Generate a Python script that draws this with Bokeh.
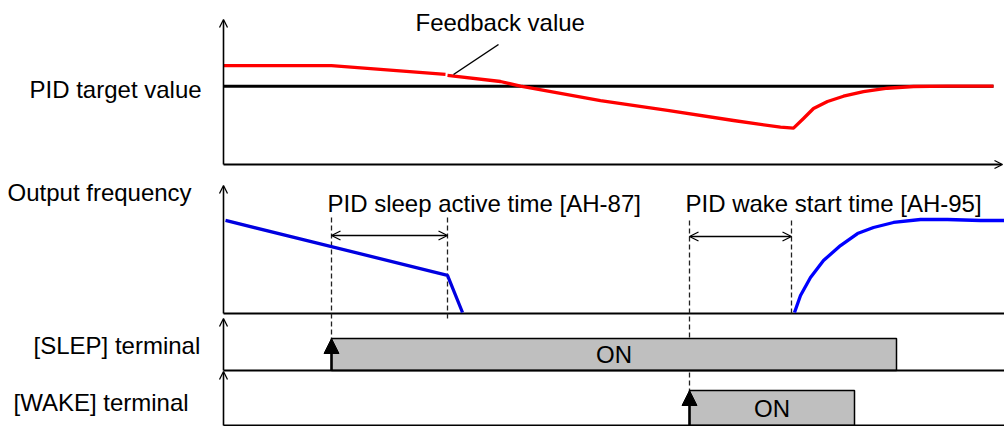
from bokeh.plotting import figure
from bokeh.models import Range1d, Arrow, OpenHead, NormalHead
from bokeh.core.properties import value
from bokeh.embed import file_html
from bokeh.resources import INLINE

# ---------------- data (time in arbitrary units from the axis origin) ----------------
# PID feedback value (% of target), drawn in two pieces (gap at the leader line)
fb_time_a = [0, 108, 222]
fb_value_a = [126.4, 126.4, 115]
fb_time_b = [224, 277, 297, 377, 444, 510, 557, 570, 580, 590, 604, 620, 640, 664, 690, 724, 770]
fb_value_b = [113.7, 106, 100, 81.7, 69, 56.2, 47.6, 46.4, 58.7, 71.5, 80.5, 87.2, 93.2, 97.4, 99.6, 100, 100]
# PID target value
target_time = [0, 770]
target_value = [100, 100]
# Output frequency (%)
freq_time_a = [2, 224, 239]
freq_value_a = [99, 40, 0]
freq_time_b = [571, 577, 587, 600, 617, 634, 650, 670, 697, 724, 757, 781]
freq_value_b = [0, 18.3, 37.6, 55.9, 72, 84.9, 91.4, 96.8, 100, 100, 98.9, 98.9]
# Terminals (ON intervals)
slep_on, slep_off = 108, 673
wake_on, wake_off = 466, 631
# Timers
sleep_timer = (108, 224)
wake_timer = (466, 568)

row_labels = ["PID target value", "Output frequency", "[SLEP] terminal", "[WAKE] terminal"]
FONT = "Liberation Sans"
FS = "24px"

W, H = 1004, 426
p = figure(width=W, height=H, x_range=Range1d(-223, 781), y_range=Range1d(H, 0),
           output_backend="svg", toolbar_location=None, min_border=0,
           x_axis_location=None, y_axis_location=None, outline_line_color=None)
p.grid.visible = False
p.margin = (0, 0, 0, 0)


def panel_range(v_lo, px_lo, v_hi, px_hi):
    a = (px_hi - px_lo) / (v_hi - v_lo)
    b = px_lo - a * v_lo
    return Range1d(start=(H - b) / a, end=(0 - b) / a)


p.extra_y_ranges = {
    "pv": panel_range(0, 164, 100, 85.7),
    "freq": panel_range(0, 312, 100, 219),
    "slep": panel_range(0, 370, 1, 338),
    "wake": panel_range(0, 425, 1, 390),
}

# ---------------- axes of each row ----------------
axis_kw = dict(line_color="black", line_width=1.6)
p.add_layout(Arrow(x_start=0, y_start=164, x_end=0, y_end=19, end=OpenHead(size=8, line_width=1.3), start=None, **axis_kw))
p.add_layout(Arrow(x_start=0, y_start=164, x_end=779, y_end=164, end=OpenHead(size=8, line_width=1.3), start=None, line_color="black", line_width=2))
p.add_layout(Arrow(x_start=0, y_start=313, x_end=0, y_end=185, end=OpenHead(size=8, line_width=1.3), start=None, **axis_kw))
p.line([0, 781], [313, 313], line_color="black", line_width=2)
p.add_layout(Arrow(x_start=0, y_start=370, x_end=0, y_end=318, end=OpenHead(size=8, line_width=1.3), start=None, **axis_kw))
p.add_layout(Arrow(x_start=0, y_start=425, x_end=0, y_end=371, end=OpenHead(size=8, line_width=1.3), start=None, **axis_kw))

# ---------------- dashed guides ----------------
dash_kw = dict(line_color="#222222", line_width=1.3, line_dash="5 3")
p.segment(x0=[sleep_timer[0], sleep_timer[1], wake_timer[0], wake_timer[1]],
          y0=[217, 217, 220, 220],
          x1=[sleep_timer[0], sleep_timer[1], wake_timer[0], wake_timer[1]],
          y1=[338, 321, 390, 313], **dash_kw)

# ---------------- terminals ----------------
p.quad(left=[slep_on], right=[slep_off], bottom=[0], top=[1], y_range_name="slep",
       fill_color="#bfbfbf", line_color="black", line_width=1.5)
p.quad(left=[wake_on], right=[wake_off], bottom=[0], top=[1], y_range_name="wake",
       fill_color="#bfbfbf", line_color="black", line_width=1.5)
p.line([0, 781], [0, 0], y_range_name="slep", line_color="black", line_width=2.2)
p.line([0, 781], [0, 0], y_range_name="wake", line_color="black", line_width=2.2)
p.add_layout(Arrow(x_start=slep_on, y_start=0, x_end=slep_on, y_end=1, y_range_name="slep",
                   end=NormalHead(size=15, fill_color="black", line_color="black"), line_width=2.5, line_color="black"))
p.add_layout(Arrow(x_start=wake_on, y_start=0, x_end=wake_on, y_end=1, y_range_name="wake",
                   end=NormalHead(size=15, fill_color="black", line_color="black"), line_width=2.5, line_color="black"))

# ---------------- curves ----------------
p.line(target_time, target_value, y_range_name="pv", line_color="black", line_width=3)
p.line(fb_time_a, fb_value_a, y_range_name="pv", line_color="#ff0000", line_width=3.3)
p.line(fb_time_b, fb_value_b, y_range_name="pv", line_color="#ff0000", line_width=3.3, line_join="round")
p.line(freq_time_a, freq_value_a, y_range_name="freq", line_color="#0000e0", line_width=3.3)
p.line(freq_time_b, freq_value_b, y_range_name="freq", line_color="#0000ff", line_width=3.3, line_join="round")

# leader line for feedback value
p.line([230, 275], [74, 44], line_color="black", line_width=1.5)

# timer double arrows
for (t0, t1), yy in ((sleep_timer, 235), (wake_timer, 236)):
    p.add_layout(Arrow(x_start=t0, y_start=yy, x_end=t1, y_end=yy,
                       start=OpenHead(size=9, line_width=1.3), end=OpenHead(size=9, line_width=1.3),
                       line_color="black", line_width=1.4))

# ---------------- texts ----------------
p.text(x=[29 - 223, 7 - 223, 33 - 223, 13 - 223], y=[89, 192, 345, 402], text=row_labels,
       text_font=value(FONT), text_font_size=value(FS), text_baseline="middle", text_align="left",
       text_color="black")
p.text(x=[415 - 223, 327 - 223, 685 - 223], y=[22, 203, 203],
       text=["Feedback value", "PID sleep active time [AH-87]", "PID wake start time [AH-95]"],
       text_font=value(FONT), text_font_size=value(FS), text_baseline="middle", text_align="left",
       text_color="black")
p.text(x=[(slep_on + slep_off) / 2, (wake_on + wake_off) / 2], y=[354, 408], text=["ON", "ON"],
       text_font=value(FONT), text_font_size=value(FS), text_baseline="middle", text_align="center",
       text_color="black")

open("out.html", "w").write(file_html(p, INLINE))
